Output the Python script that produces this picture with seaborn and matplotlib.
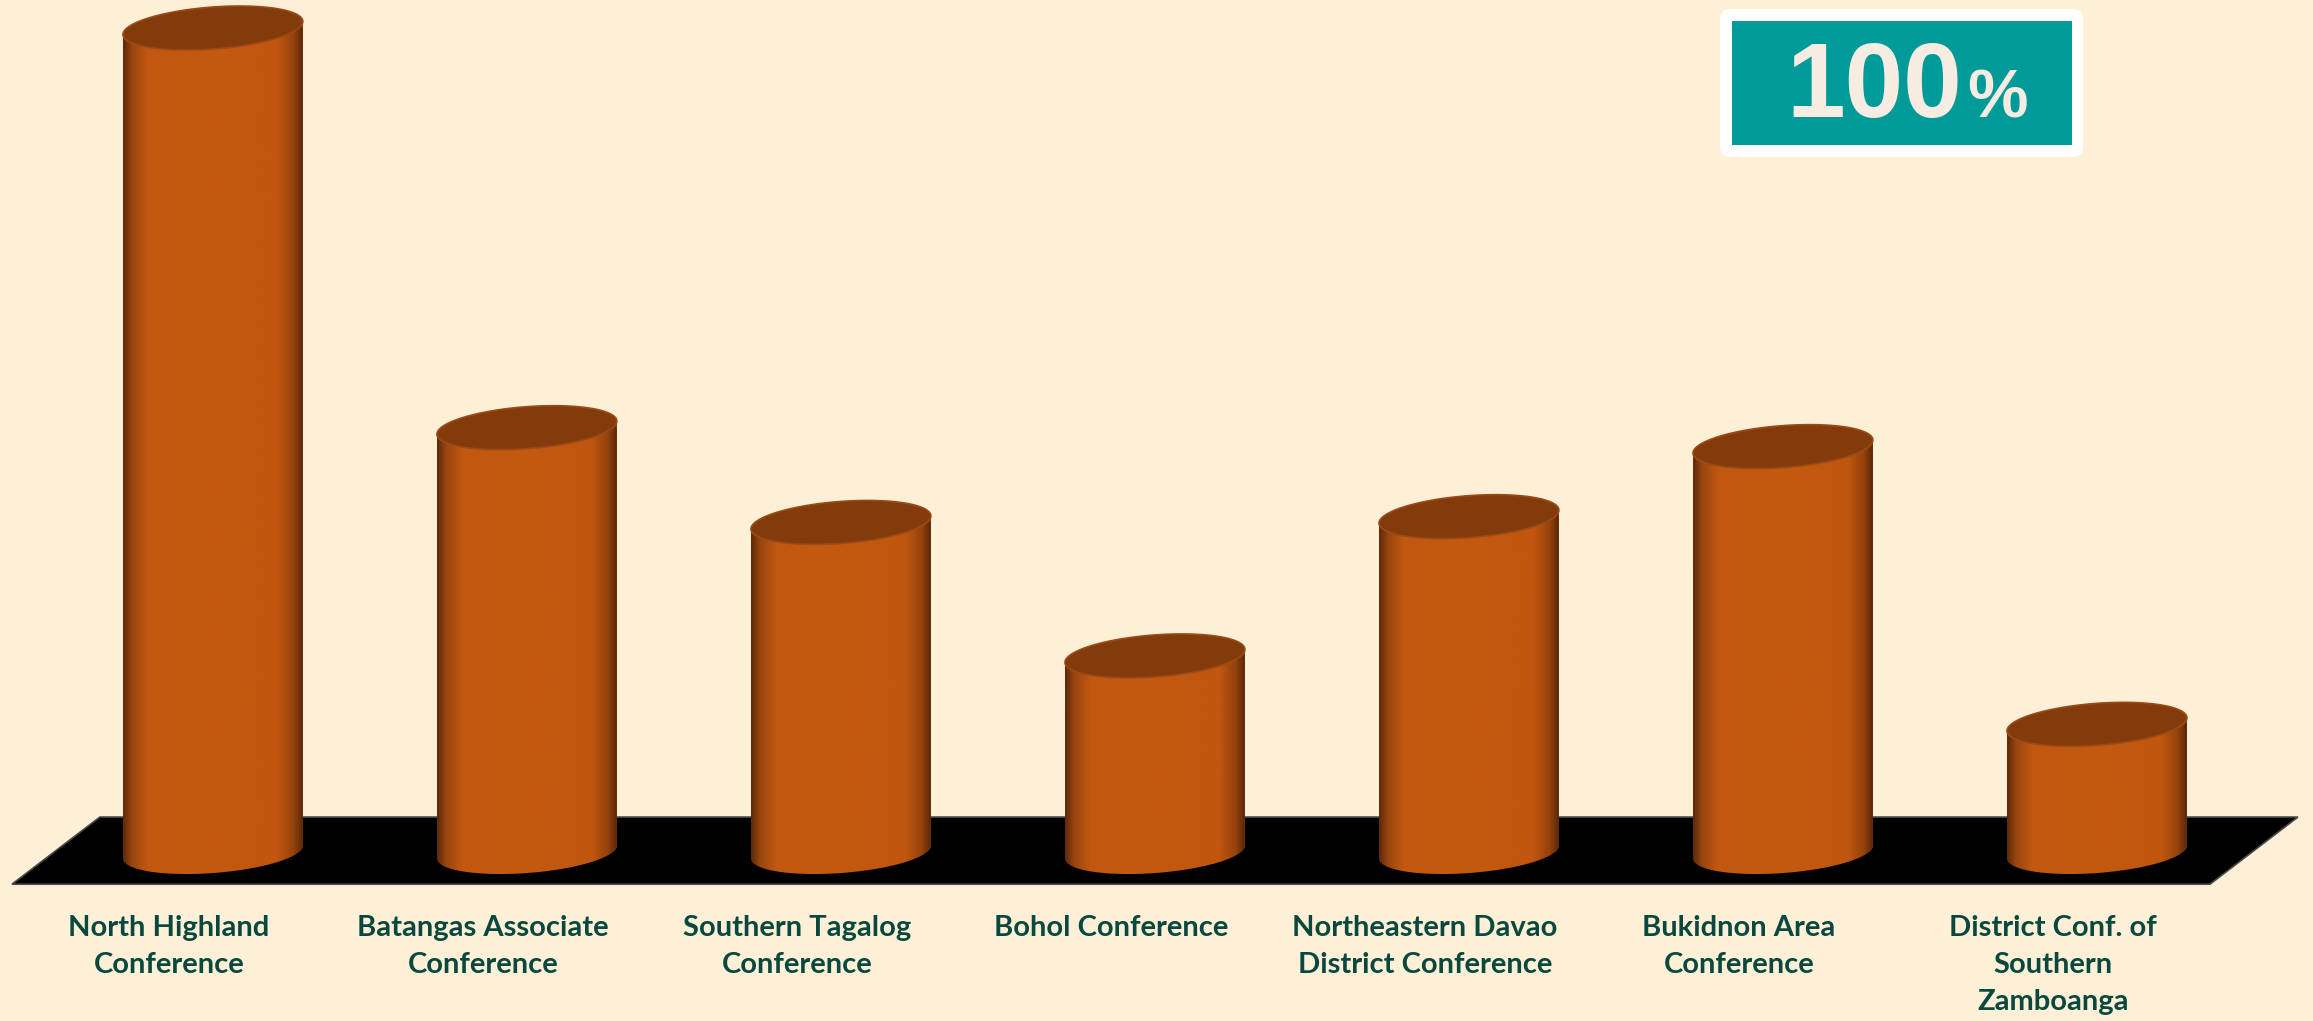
import numpy as np
import matplotlib
matplotlib.use("Agg")
import matplotlib.pyplot as plt
import matplotlib.transforms as mtransforms
from matplotlib.colors import LinearSegmentedColormap
from matplotlib.patches import PathPatch, FancyBboxPatch, Rectangle
from matplotlib.path import Path
import seaborn as sns

# Data
conferences = [
    "North Highland\nConference",
    "Batangas Associate\nConference",
    "Southern Tagalog\nConference",
    "Bohol Conference",
    "Northeastern Davao\nDistrict Conference",
    "Bukidnon Area\nConference",
    "District Conf. of\nSouthern\nZamboanga",
]
values = [100, 51.5, 40.0, 23.8, 40.7, 49.2, 15.5]
badge_number = "100"
badge_unit = "%"

# Colours
BG = "#FEF0D7"
BODY = "#C4580F"
TOP = "#843B0B"
LABEL = "#08483E"
TEAL = "#009A98"
BADGE_TXT = "#F6ECE1"

# Layout (figure in pixels: 2313 x 1021)
W_PX, H_PX = 2313, 1021
XLIM = (-0.678, 6.688)
YLIM = (-20.5, 103.4)
BAR_WIDTH = 0.573
ELL_HALF_PX = 21      # half height of cylinder ellipse
TILT_PX = 6.5         # right side of ellipse raised by this much
LABEL_SHIFT = 0.14    # labels sit on the front edge of the floor

sns.set_style("white")
plt.rcParams["font.family"] = ["Lato", "DejaVu Sans"]

fig = plt.figure(figsize=(W_PX / 100, H_PX / 100), dpi=100, facecolor=BG)
ax = fig.add_axes([0, 0, 1, 1])
ax.set_facecolor("none")

sns.barplot(x=conferences, y=values, color=BODY, width=BAR_WIDTH,
            linewidth=0, errorbar=None, ax=ax, zorder=2)
bars = list(ax.patches)

ax.set_xlim(XLIM)
ax.set_ylim(YLIM)
px_y = H_PX / (YLIM[1] - YLIM[0])
b = ELL_HALF_PX / px_y
s = TILT_PX / px_y

# black floor (parallelogram)
n = len(values)
fx = [-0.5 + LABEL_SHIFT, n - 0.5 + LABEL_SHIFT, n - 0.5 - LABEL_SHIFT, -0.5 - LABEL_SHIFT]
fy = [4.25, 4.25, -3.9, -3.9]
ax.fill(fx, fy, color="black", edgecolor="#4a4a4a", linewidth=1.2, zorder=1)

body_cmap = LinearSegmentedColormap.from_list(
    "cyl", [(0.0, "#5E2A08"), (0.05, "#9A4510"), (0.14, "#C25811"),
            (0.5, "#C4590F"), (0.86, "#C0560F"), (0.95, "#95420D"),
            (1.0, "#5A2807")])
grad = np.linspace(0, 1, 256)[None, :]

t_bot = np.linspace(0, -np.pi, 80)
t_top = np.linspace(np.pi, 0, 80)
t_full = np.linspace(0, 2 * np.pi, 160)

for p in bars:
    a = p.get_width() / 2
    xc = p.get_x() + a
    h = p.get_height()

    bx = xc + a * np.cos(t_bot)
    by = b * np.sin(t_bot) + s * np.cos(t_bot)
    tx = xc + a * np.cos(t_top)
    ty = h + b * np.sin(t_top) + s * np.cos(t_top)
    verts = np.column_stack([np.r_[bx, tx], np.r_[by, ty]])
    sil = PathPatch(Path(verts), transform=ax.transData)

    p.set_clip_path(sil)
    im = ax.imshow(grad, cmap=body_cmap, extent=(xc - a, xc + a, -b - s - 1, h + b + s + 1),
                   aspect="auto", interpolation="bilinear", zorder=3)
    im.set_clip_path(sil)

    ex = xc + a * np.cos(t_full)
    ey = h + b * np.sin(t_full) + s * np.cos(t_full)
    ax.add_patch(PathPatch(Path(np.column_stack([ex, ey])), facecolor=TOP,
                           edgecolor="#9A4A16", linewidth=1.2, zorder=4))

# category labels
trans = mtransforms.blended_transform_factory(ax.transData, fig.transFigure)
for p, lab in zip(bars, conferences):
    xc = p.get_x() + p.get_width() / 2
    ax.text(xc - LABEL_SHIFT, 0.104, lab, transform=trans, ha="center", va="top",
            fontsize=21, fontweight="bold", color=LABEL, linespacing=1.52)

ax.set_xlim(XLIM)
ax.set_ylim(YLIM)
ax.axis("off")

# 100% badge
fig.add_artist(FancyBboxPatch((17.20, 8.64), 3.63, 1.48,
                              boxstyle="round,pad=0,rounding_size=0.1",
                              transform=fig.dpi_scale_trans, fc="white", ec="none"))
fig.add_artist(Rectangle((17.32, 8.76), 3.40, 1.24, transform=fig.dpi_scale_trans,
                         fc=TEAL, ec="none"))
fig.text(1962 / W_PX, 1 - 117 / H_PX, badge_number, ha="right", va="baseline",
         fontsize=76, fontweight="bold", family=["Liberation Sans"], color=BADGE_TXT)
fig.text(1967 / W_PX, 1 - 117 / H_PX, badge_unit, ha="left", va="baseline",
         fontsize=49, fontweight="bold", family=["Liberation Sans"], color=BADGE_TXT)

fig.savefig("out.png", dpi=100, facecolor=BG)
